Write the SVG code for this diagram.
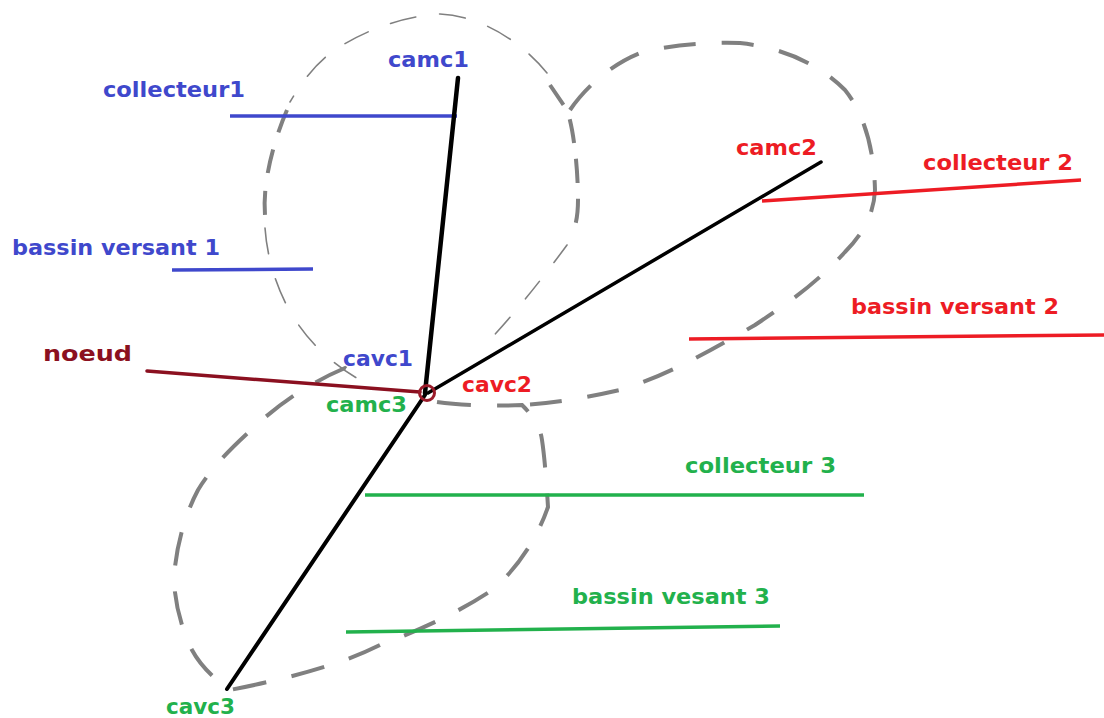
<svg xmlns="http://www.w3.org/2000/svg" width="1104" height="718" viewBox="0 0 1104 718">
<style>
.t{font-family:"DejaVu Sans","Liberation Sans",sans-serif;font-weight:bold;font-size:21px}
.b{fill:#3f48cc}.r{fill:#ed1c24}.g{fill:#22b14c}.n{fill:#8b1020}
.thin{fill:none;stroke:#808080;stroke-width:1.6;stroke-dasharray:26 24;stroke-linecap:round}
.thick{fill:none;stroke:#808080;stroke-width:4;stroke-dasharray:30 26;stroke-linecap:butt}
.blk{stroke:#000;stroke-linecap:round}
</style>
<rect width="1104" height="718" fill="#fff"/>
<g id="basins">
<path id="basin1-thin-top" class="thin" d="M547,73 C520,40 480,16 440,14 C400,16 360,33 335,50 C315,63 300,85 290,102"/>
<path id="basin1-thick-left" class="thick" style="stroke-dasharray:24 18" d="M287,110 C276,135 262,180 265,215"/>
<path id="basin1-thin-bottom" class="thin" style="stroke-dasharray:26 26" d="M265,228 C268,270 285,315 317,347 C330,360 345,372 362,381"/>
<path id="basin1-right" class="thick" style="stroke-dasharray:24 16" d="M550,85 L567,110 C574,130 578,170 578,200 C578,215 576,225 572,235"/>
<path id="basin1-right-thin" class="thin" style="stroke-dasharray:22 24" d="M567,245 C545,275 510,320 480,350"/>
<path id="basin2" class="thick" style="stroke-dasharray:32 26" d="M570,110 C585,88 610,65 640,53 C670,45 705,42 740,43 C785,48 820,65 845,90 C865,115 874,150 875,190 C874,215 862,235 845,252 C815,285 785,305 755,325 C720,345 670,375 620,390 C585,398 555,403 522,405"/>
<path id="basin3" class="thick" style="stroke-dasharray:34 26" d="M437,402 C465,406 500,406 522,405 C532,415 540,425 542,440 C545,460 547,490 548,507 C540,530 525,560 495,588 C460,612 420,630 380,645 C340,665 290,678 230,690 C215,680 200,665 192,650 C182,630 175,605 174,580 C175,555 182,520 198,490 C215,462 240,440 262,420 C285,400 312,382 345,368 L360,378"/>
</g>
<g id="connectors">
<line id="collecteur1-line" x1="230" y1="116" x2="457" y2="116" stroke="#3f48cc" stroke-width="3.5"/>
<line id="bv1-line" x1="172" y1="270" x2="313" y2="269" stroke="#3f48cc" stroke-width="3.5"/>
<line id="collecteur2-line" x1="762" y1="201" x2="1081" y2="180" stroke="#ed1c24" stroke-width="3.5"/>
<line id="bv2-line" x1="689" y1="339" x2="1104" y2="335" stroke="#ed1c24" stroke-width="3.5"/>
<line id="collecteur3-line" x1="365" y1="495" x2="864" y2="495" stroke="#22b14c" stroke-width="3.5"/>
<line id="bv3-line" x1="346" y1="632" x2="780" y2="626" stroke="#22b14c" stroke-width="3.5"/>
<line id="noeud-line" x1="147" y1="371" x2="420" y2="392" stroke="#8b1020" stroke-width="3.5" stroke-linecap="round"/>
<line id="reach1" class="blk" x1="458" y1="78" x2="425" y2="393" stroke-width="4.5"/>
<line id="reach2" class="blk" x1="821" y1="162" x2="428" y2="393" stroke-width="3.5"/>
<line id="reach3" class="blk" x1="227" y1="689" x2="425" y2="395" stroke-width="4"/>
</g>
<g id="node-noeud">
<circle cx="427" cy="393" r="7.5" fill="none" stroke="#9b1b2a" stroke-width="3"/>
<text class="t n" x="43" y="361" textLength="89" lengthAdjust="spacingAndGlyphs" style="font-size:22px">noeud</text>
</g>
<g id="labels-1">
<text class="t b" x="388" y="67" textLength="81" lengthAdjust="spacingAndGlyphs">camc1</text>
<text class="t b" x="103" y="97" textLength="142" lengthAdjust="spacingAndGlyphs">collecteur1</text>
<text class="t b" x="12" y="255" textLength="208" lengthAdjust="spacingAndGlyphs">bassin versant 1</text>
<text class="t b" x="343" y="366" textLength="70" lengthAdjust="spacingAndGlyphs">cavc1</text>
</g>
<g id="labels-2">
<text class="t r" x="736" y="155" textLength="81" lengthAdjust="spacingAndGlyphs">camc2</text>
<text class="t r" x="923" y="170" textLength="150" lengthAdjust="spacingAndGlyphs">collecteur 2</text>
<text class="t r" x="851" y="314" textLength="208" lengthAdjust="spacingAndGlyphs">bassin versant 2</text>
<text class="t r" x="462" y="392" textLength="70" lengthAdjust="spacingAndGlyphs">cavc2</text>
</g>
<g id="labels-3">
<text class="t g" x="326" y="412" textLength="81" lengthAdjust="spacingAndGlyphs">camc3</text>
<text class="t g" x="685" y="473" textLength="151" lengthAdjust="spacingAndGlyphs">collecteur 3</text>
<text class="t g" x="572" y="604" textLength="198" lengthAdjust="spacingAndGlyphs">bassin vesant 3</text>
<text class="t g" x="166" y="714" textLength="69" lengthAdjust="spacingAndGlyphs">cavc3</text>
</g>
</svg>
